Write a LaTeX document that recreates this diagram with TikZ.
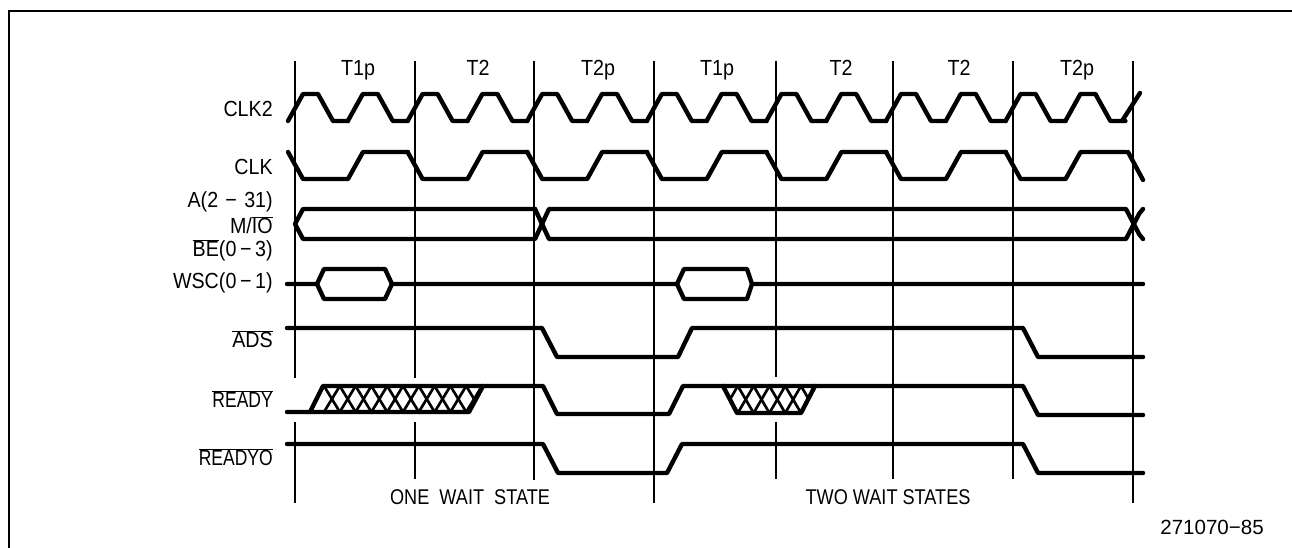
\documentclass[tikz,border=0pt]{standalone}
\usepackage{fontspec}
\setmainfont{Liberation Sans}
\newfontfamily\narrowfont[FakeStretch=0.9]{Liberation Sans}
\newfontfamily\tightfont[FakeStretch=0.8]{Liberation Sans}
\newfontfamily\captionfont[FakeStretch=0.85]{Liberation Sans}
\newcommand{\ovl}[1]{\ensuremath{\overline{\mbox{#1}}}}
\tikzset{
  sig/.style={line width=3.3pt, line join=round, line cap=round},
  gridline/.style={line width=1.1pt},
  framing/.style={line width=1.6pt},
  hatchline/.style={line width=2pt},
  siglabel/.style={anchor=base east, inner sep=0pt, font=\fontsize{16.4}{17}\selectfont\narrowfont},
  tightlabel/.style={anchor=base east, inner sep=0pt, font=\fontsize{16.4}{17}\selectfont\tightfont},
  statelabel/.style={anchor=base, inner sep=0pt, font=\fontsize{16.4}{17}\selectfont\narrowfont},
  waitlabel/.style={anchor=base, inner sep=0pt, font=\fontsize{16}{17}\selectfont\captionfont}
}
\begin{document}
\begin{tikzpicture}[x=0.75pt, y=-0.75pt]
  \useasboundingbox (0,0) rectangle (1292,548);

  % Frame
  \draw[framing] (1292,11) -- (9,11) -- (9,548);

  % Grid lines, broken around READY
  \foreach \tick/\upper/\lower in {295/378/503, 415/378/479, 776/377/479} {
    \draw[gridline] (\tick,61) -- (\tick,\upper);
    \draw[gridline] (\tick,422) -- (\tick,\lower);
  }
  \foreach \tick/\lower in {534/480, 654/503, 893/479, 1013/479, 1133/503} {
    \draw[gridline] (\tick,61) -- (\tick,\lower);
  }

  % CLK2 and CLK
  \foreach \k in {0,...,13} {
    \pgfmathsetmacro{\c}{303+59.8*\k}
    \draw[sig] ({\c-15},121) -- (\c,94) -- ({\c+15},94) -- ({\c+30},121) -- ({\c+45},121);
  }
  \draw[sig] (1122,121) -- (1140,93);
  \foreach \k in {0,...,6} {
    \pgfmathsetmacro{\c}{303+119.6*\k}
    \draw[sig] ({\c-15},152) -- (\c,179) -- ({\c+45},179) -- ({\c+60},152) -- ({\c+105},152);
  }
  \draw[sig] (1128,152) -- (1143,180);

  % Address bus
  \draw[sig] (535,209) -- (303,209) -- (295,224) -- (303,239) -- (535,239) -- (549,209)
    -- (1126,209) -- (1139,234) -- (1143,239);
  \draw[sig] (535,209) -- (549,239) -- (1126,239) -- (1139,214) -- (1143,209);

  % WSC
  \draw[sig] (287,284) -- (317,284) -- (324,269) -- (385,269) -- (392,284) -- (677,284)
    -- (684,269) -- (747,269) -- (752,284) -- (1143,284);
  \draw[sig] (317,284) -- (324,299) -- (385,299) -- (392,284);
  \draw[sig] (677,284) -- (684,299) -- (747,299) -- (752,284);

  % ADS
  \draw[sig] (287,328) -- (542,328) -- (557,357) -- (678,357) -- (692,328) -- (1023,328)
    -- (1038,357) -- (1143,357);

  % READY
  \begin{scope}
    \clip (323,386) -- (483,386) -- (469,412) -- (310,412) -- cycle;
    \foreach \k in {0,...,10} {
      \pgfmathsetmacro{\c}{324+15.8*\k}
      \draw[hatchline] (\c,386) -- ({\c+15.8},412);
      \draw[hatchline] ({\c+15.8},386) -- (\c,412);
    }
  \end{scope}
  \begin{scope}
    \clip (723,386) -- (815,386) -- (801,413) -- (737,413) -- cycle;
    \foreach \k in {0,...,5} {
      \pgfmathsetmacro{\c}{722+15.8*\k}
      \draw[hatchline] (\c,386) -- ({\c+15.8},413);
      \draw[hatchline] ({\c+15.8},386) -- (\c,413);
    }
  \end{scope}
  \draw[sig] (287,412) -- (469,412) -- (483,386);
  \draw[sig] (310,412) -- (323,386) -- (543,386) -- (557,414) -- (669,414) -- (683,386)
    -- (1023,386) -- (1038,415) -- (1143,415);
  \draw[sig] (723,386) -- (737,413) -- (801,413) -- (815,386);

  % READYO
  \draw[sig] (287,444) -- (543,444) -- (558,473) -- (667,473) -- (682,444) -- (1023,444)
    -- (1038,473) -- (1143,473);

  % Signal names
  \node[siglabel] (clktwo) at (273,117) {CLK2};
  \node[siglabel] (clk) at (273,175) {CLK};
  \node[siglabel] (addr) at (273,208) {A(2\,\,−\,\,31)};
  \node[siglabel] (mio) at (273,234) {M/\ovl{IO}};
  \node[siglabel] (be) at (273,257) {\ovl{BE}(0\,−\,3)};
  \node[siglabel] (wsc) at (273,289) {WSC(0\,−\,1)};
  \node[siglabel] (ads) at (273,348) {\ovl{ADS}};
  \node[tightlabel] (ready) at (273,408) {\ovl{READY}};
  \node[tightlabel] (readyo) at (273,466) {\ovl{READYO}};

  % Bus states
  \node[statelabel] (stateA) at (358,76) {T1p};
  \node[statelabel] (stateB) at (478,76) {T2};
  \node[statelabel] (stateC) at (598,76) {T2p};
  \node[statelabel] (stateD) at (717,76) {T1p};
  \node[statelabel] (stateE) at (841,76) {T2};
  \node[statelabel] (stateF) at (959,76) {T2};
  \node[statelabel] (stateG) at (1077,76) {T2p};

  % Captions
  \node[waitlabel] (onewait) at (470,505) {ONE\ \ WAIT\ \ STATE};
  \node[waitlabel] (twowait) at (888,505) {TWO WAIT STATES};
  \node[anchor=base east, inner sep=0pt, font=\fontsize{15.4}{16}\selectfont] (figno) at (1264,534) {271070−85};
\end{tikzpicture}
\end{document}
